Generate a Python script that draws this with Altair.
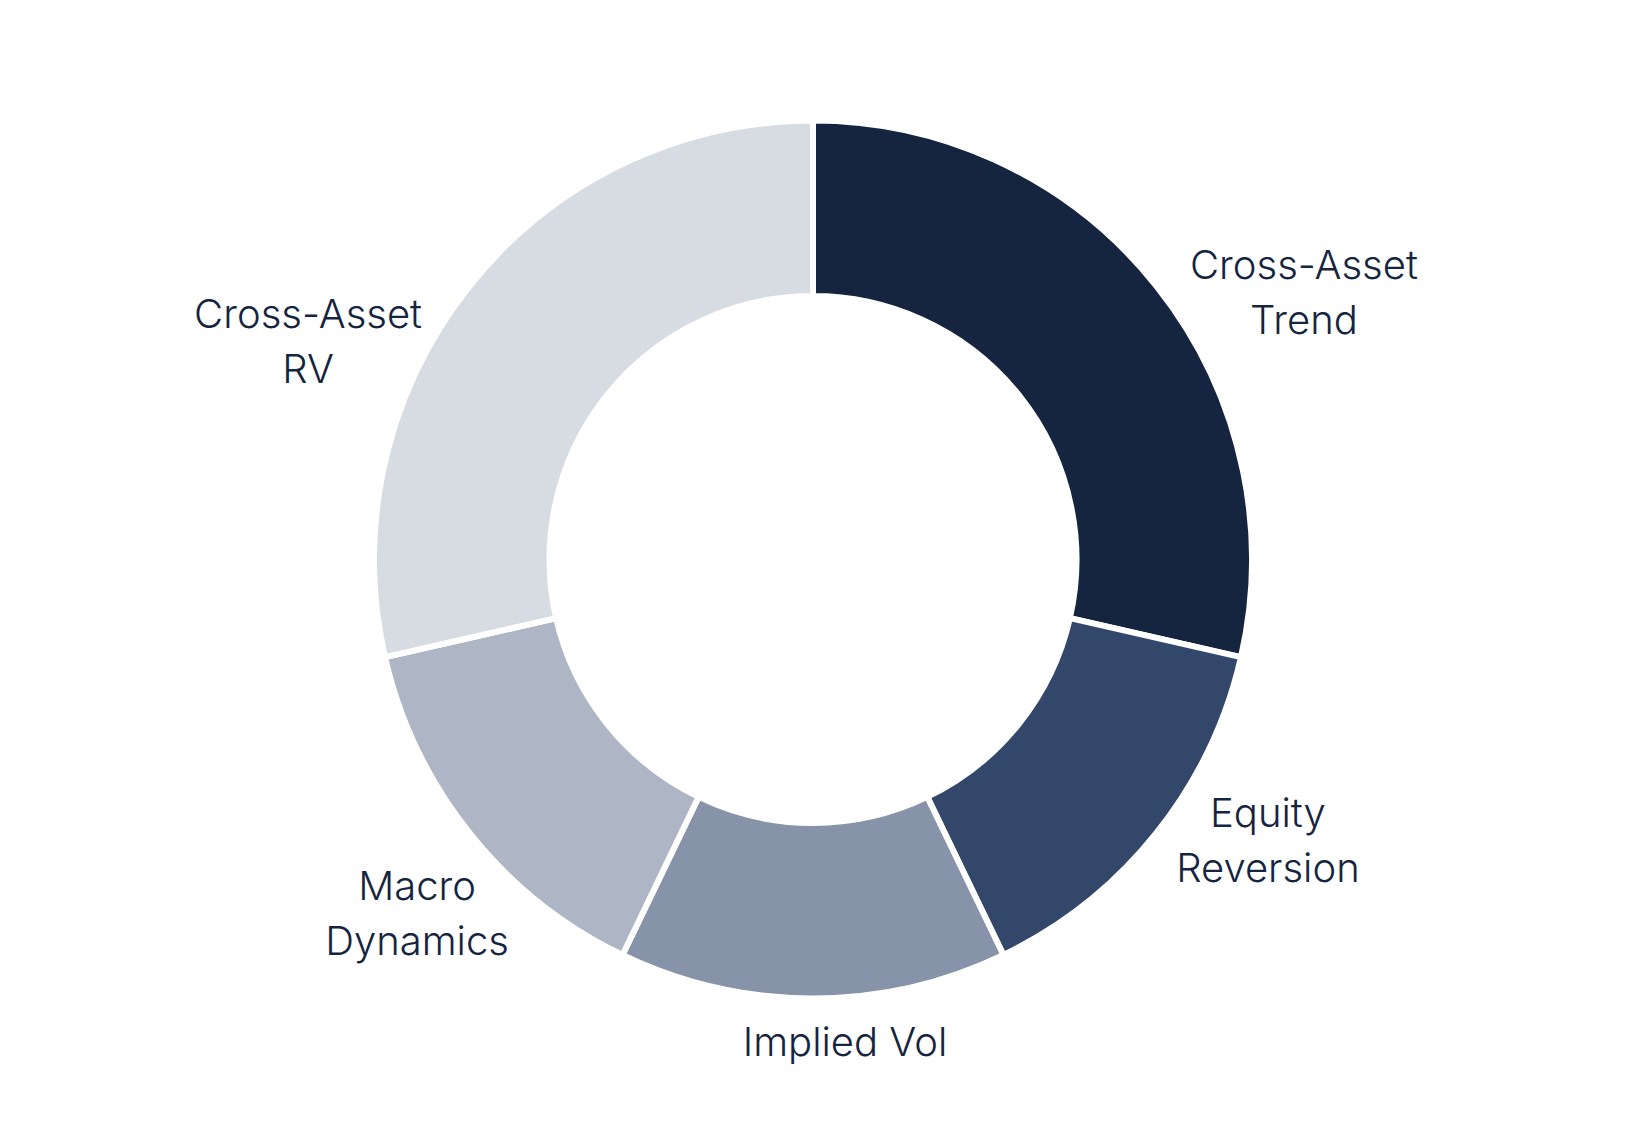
import altair as alt
import pandas as pd

categories = ["Cross-Asset Trend", "Equity Reversion", "Implied Vol", "Macro Dynamics", "Cross-Asset RV"]
label_lines = ["Cross-Asset\nTrend", "Equity\nReversion", "Implied Vol", "Macro\nDynamics", "Cross-Asset\nRV"]
weights = [20, 10, 10, 10, 20]
colors = ["#15243F", "#33476B", "#8793A8", "#AEB5C4", "#D7DBE2"]

df = pd.DataFrame({
    "category": categories,
    "label": label_lines,
    "weight": weights,
    "order": list(range(len(categories))),
})

# label nudges (style) relative to the mid-angle anchor
label_offsets = {
    "Cross-Asset Trend": (100, 19),
    "Equity Reversion": (64, -56),
    "Implied Vol": (32, -16),
    "Macro Dynamics": (-5, 17),
    "Cross-Asset RV": (-114, 68),
}

base = alt.Chart(df).encode(
    theta=alt.Theta("weight:Q", stack=True),
    order=alt.Order("order:Q", sort="ascending"),
)

arcs = base.mark_arc(outerRadius=439, innerRadius=263.5, stroke="white", strokeWidth=6).encode(
    color=alt.Color("category:N", scale=alt.Scale(domain=categories, range=colors), legend=None)
)

layers = [arcs]
for cat, (dx, dy) in label_offsets.items():
    layers.append(
        base.mark_text(
            radius=500, dx=dx, dy=dy, fontSize=40, font="Inter", fontWeight=300,
            color="#15243F", lineBreak="\n", lineHeight=55, align="center", baseline="middle",
        ).encode(
            text=alt.condition(alt.datum.category == cat, alt.Text("label:N"), alt.value(""))
        )
    )

chart = alt.layer(*layers).properties(
    width=1600, height=1093, autosize=alt.AutoSizeParams(type="none")
).configure_view(stroke=None)

chart.save("out.html", embed_options={"renderer": "svg", "actions": False})
